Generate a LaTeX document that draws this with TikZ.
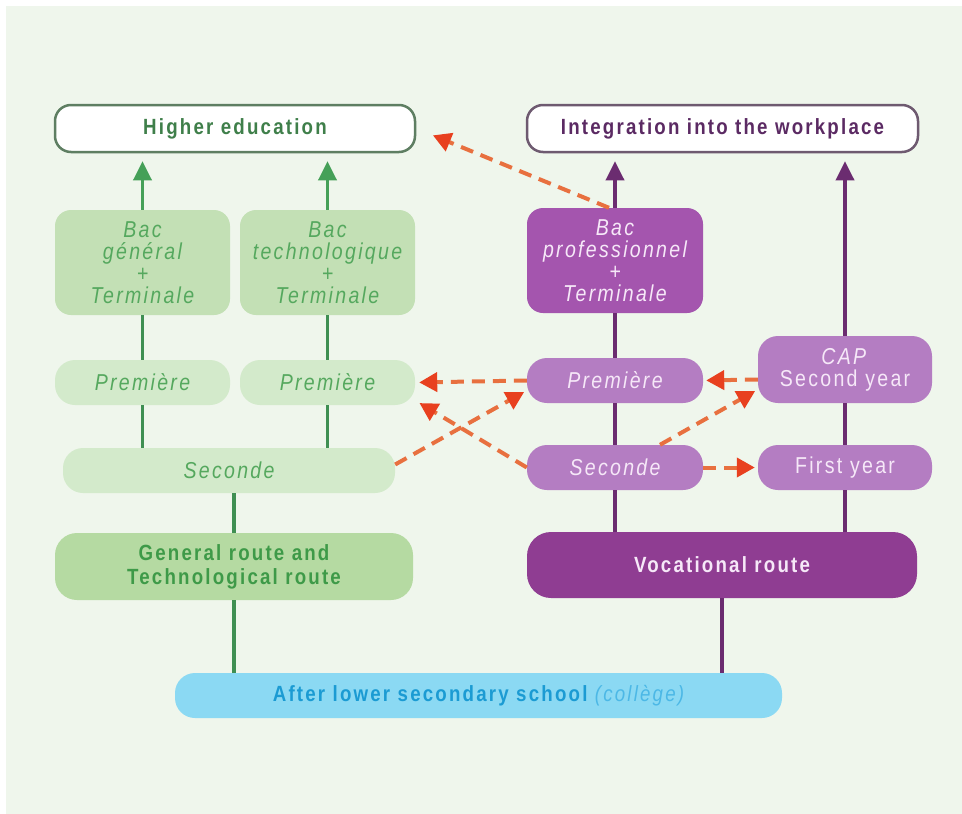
\documentclass[tikz,border=0pt]{standalone}
\usepackage{fontspec}
\setmainfont{Liberation Sans}[FakeStretch=0.85,LetterSpace=10]
\usetikzlibrary{arrows.meta}
\definecolor{bgc}{HTML}{EFF6EC}
\definecolor{gline}{HTML}{3F8F52}
\definecolor{garrow}{HTML}{45A058}
\definecolor{gtext}{HTML}{55A85E}
\definecolor{ghead}{HTML}{3F7F4A}
\definecolor{gborder}{HTML}{5E7E62}
\definecolor{gfillA}{HTML}{C3E0B5}
\definecolor{gfillB}{HTML}{D3EACB}
\definecolor{gfillC}{HTML}{B5DAA2}
\definecolor{grtext}{HTML}{3E9A48}
\definecolor{pline}{HTML}{6B2C70}
\definecolor{ptext}{HTML}{5B2A63}
\definecolor{pborder}{HTML}{6E5A70}
\definecolor{pfillA}{HTML}{A455AE}
\definecolor{pfillB}{HTML}{B47DC2}
\definecolor{pfillC}{HTML}{8F3D92}
\definecolor{ptextw}{HTML}{F6E8F8}
\definecolor{bfill}{HTML}{8BD9F3}
\definecolor{btext}{HTML}{1B9BD3}
\definecolor{btextB}{HTML}{4CB8E6}
\definecolor{dashc}{HTML}{E8703F}
\definecolor{headc}{HTML}{E8401F}
\tikzset{
  box/.style={rectangle, rounded corners=16pt, inner sep=0pt, align=center},
  txt/.style={font=\fontsize{23}{22}\selectfont\itshape},
  hdr/.style={font=\fontsize{22}{24}\selectfont\bfseries},
  gline/.style={draw=gline, line width=3.5pt},
  pline/.style={draw=pline, line width=3.5pt},
  garr/.style={draw=garrow, line width=3.5pt, -{Triangle[length=19pt,width=18pt]}, shorten >=8pt},
  parr/.style={draw=pline, line width=3.5pt, -{Triangle[length=19pt,width=18pt]}, shorten >=8pt},
  dasharr/.style={draw=dashc, line width=4pt, dash pattern=on 13pt off 8pt,
    -{Triangle[length=18pt,width=19pt,color=headc]}},
}
\begin{document}
\begin{tikzpicture}[x=1pt,y=-1pt]
\useasboundingbox (0,0) rectangle (962,814);
\fill[white] (0,0) rectangle (962,814);
\fill[bgc] (6,6) rectangle (962,814);

% top targets
\node[box, draw=gborder, line width=2.5pt, fill=white, minimum width=360pt, minimum height=47pt, hdr, text=ghead] (he) at (235,128.5) {Higher education};
\node[box, draw=pborder, line width=2.5pt, fill=white, minimum width=391pt, minimum height=47pt, hdr, text=ptext] (iw) at (722.5,128.5) {Integration into the workplace};

% green column
\node[box, fill=gfillA, minimum width=175pt, minimum height=105pt, txt, text=gtext] (bg) at (142.5,262.5) {Bac\\général\\+\\Terminale};
\node[box, fill=gfillA, minimum width=175pt, minimum height=105pt, txt, text=gtext] (bt) at (327.5,262.5) {Bac\\technologique\\+\\Terminale};
\node[box, rounded corners=20pt, fill=gfillB, minimum width=175pt, minimum height=45pt, txt, text=gtext] (p1) at (142.5,382.5) {Première};
\node[box, rounded corners=20pt, fill=gfillB, minimum width=175pt, minimum height=45pt, txt, text=gtext] (p2) at (327.5,382.5) {Première};
\node[box, rounded corners=20pt, fill=gfillB, minimum width=332pt, minimum height=45pt, txt, text=gtext] (sg) at (229,470.5) {Seconde};
\node[box, rounded corners=22pt, fill=gfillC, minimum width=358pt, minimum height=67pt, hdr, text=grtext] (gr) at (234,566.5) {General route and\\Technological route};

% purple column
\node[box, fill=pfillA, minimum width=176pt, minimum height=105pt, txt, text=ptextw] (bp) at (615,260.5) {Bac\\professionnel\\+\\Terminale};
\node[box, rounded corners=20pt, fill=pfillB, minimum width=176pt, minimum height=45pt, txt, text=ptextw] (pp) at (615,380.5) {Première};
\node[box, rounded corners=20pt, fill=pfillB, minimum width=176pt, minimum height=45pt, txt, text=ptextw] (sp) at (615,467.5) {Seconde};
\node[box, rounded corners=20pt, fill=pfillB, minimum width=174pt, minimum height=67pt, font=\fontsize{23}{22}\selectfont, text=ptextw] (cap) at (845,369.5) {\textit{CAP}\\Second year};
\node[box, rounded corners=20pt, fill=pfillB, minimum width=174pt, minimum height=45pt, font=\fontsize{23}{22}\selectfont, text=ptextw] (fy) at (845,467.5) {First year};
\node[box, rounded corners=24pt, fill=pfillC, minimum width=390pt, minimum height=66pt, hdr, text=ptextw] (vr) at (722,565) {Vocational route};

% bottom
\node[box, rounded corners=20pt, fill=bfill, minimum width=607pt, minimum height=45pt, hdr, text=btext] (al) at (478.5,695.5) {After lower secondary school \textcolor{btextB}{\mdseries\itshape(collège)}};

% green connectors
\draw[gline] (al.north -| gr.south) -- (gr.south);
\draw[gline] (gr.north) -- (gr.north |- sg.south);
\draw[gline] (sg.north -| p1.south) -- (p1.south);
\draw[gline] (sg.north -| p2.south) -- (p2.south);
\draw[gline] (p1.north) -- (bg.south);
\draw[gline] (p2.north) -- (bt.south);
\draw[garr] (bg.north) -- (bg.north |- he.south);
\draw[garr] (bt.north) -- (bt.north |- he.south);

% purple connectors
\draw[pline] (al.north -| vr.south) -- (vr.south);
\draw[pline] (vr.north -| sp.south) -- (sp.south);
\draw[pline] (sp.north) -- (pp.south);
\draw[pline] (pp.north) -- (bp.south);
\draw[pline] (vr.north -| fy.south) -- (fy.south);
\draw[pline] (fy.north) -- (cap.south);
\draw[parr] (bp.north) -- (bp.north |- iw.south);
\draw[parr] (cap.north) -- (cap.north |- iw.south);

% dashed transfers
\draw[dasharr, shorten >=18pt] ([xshift=-6pt]bp.north) -- (he.east);
\draw[dasharr, shorten >=4pt] (pp.west) -- (p2.east);
\draw[dasharr, shorten >=3pt] ([yshift=6pt]sg.east) -- ([yshift=-10pt]pp.west);
\draw[dasharr, shorten >=5pt] (sp.west) -- ([yshift=-18pt]p2.east);
\draw[dasharr, shorten >=3pt] ([yshift=-10pt]cap.west) -- (pp.east);
\draw[dasharr, shorten >=3pt] ([xshift=45pt]sp.north) -- ([yshift=-20pt]cap.west);
\draw[dasharr, shorten >=3pt] (sp.east) -- (fy.west);
\end{tikzpicture}
\end{document}
